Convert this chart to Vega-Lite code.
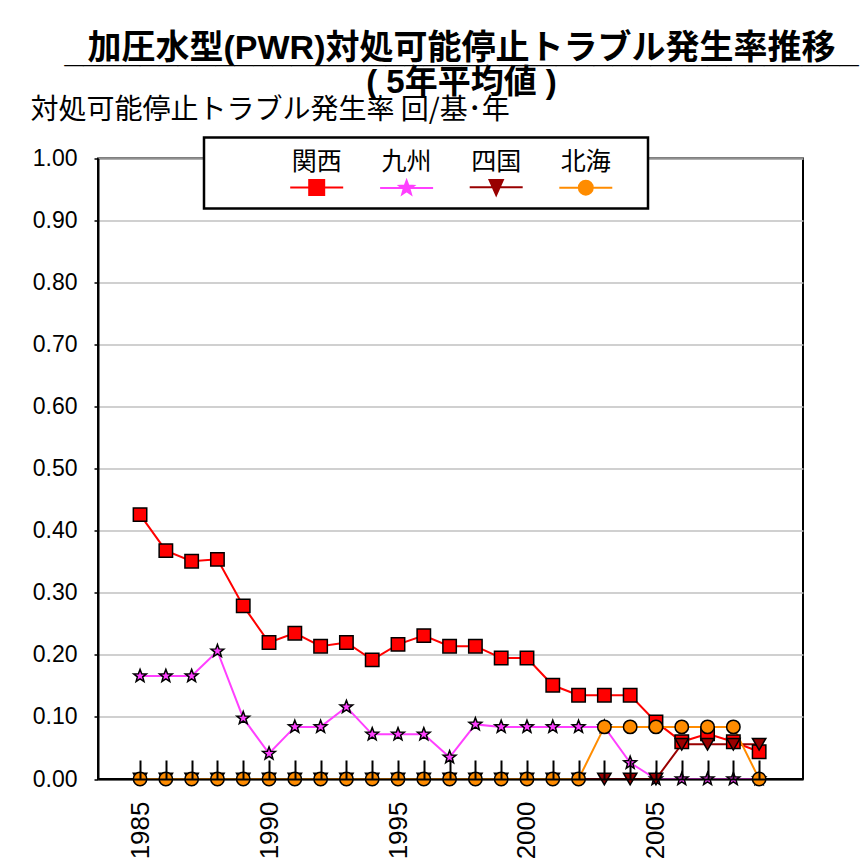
{
  "$schema": "https://vega.github.io/schema/vega-lite/v6.json",
  "autosize": "none",
  "width": 705,
  "height": 620.5,
  "padding": {"left": 98, "top": 158.5, "right": 63, "bottom": 86},
  "background": "white",
  "title": {
    "text": ["加圧水型(PWR)対処可能停止トラブル発生率推移", "__________________________________________"],
    "subtitle": "( 5年平均値 )",
    "font": "Liberation Sans, Noto Sans CJK JP",
    "fontSize": 34,
    "fontWeight": "bold",
    "color": "black",
    "lineHeight": 3,
    "subtitleFont": "Liberation Sans, Noto Sans CJK JP",
    "subtitleFontSize": 33,
    "subtitleFontWeight": "bold",
    "subtitleColor": "black",
    "subtitlePadding": -2,
    "anchor": "middle",
    "frame": "group",
    "dx": 11,
    "dy": 7,
    "offset": 4
  },
  "data": {
    "values": [
      {"year": 1985, "region": "関西", "value": 0.426},
      {"year": 1986, "region": "関西", "value": 0.368},
      {"year": 1987, "region": "関西", "value": 0.351},
      {"year": 1988, "region": "関西", "value": 0.354},
      {"year": 1989, "region": "関西", "value": 0.279},
      {"year": 1990, "region": "関西", "value": 0.220},
      {"year": 1991, "region": "関西", "value": 0.235},
      {"year": 1992, "region": "関西", "value": 0.214},
      {"year": 1993, "region": "関西", "value": 0.220},
      {"year": 1994, "region": "関西", "value": 0.192},
      {"year": 1995, "region": "関西", "value": 0.217},
      {"year": 1996, "region": "関西", "value": 0.231},
      {"year": 1997, "region": "関西", "value": 0.214},
      {"year": 1998, "region": "関西", "value": 0.214},
      {"year": 1999, "region": "関西", "value": 0.195},
      {"year": 2000, "region": "関西", "value": 0.195},
      {"year": 2001, "region": "関西", "value": 0.151},
      {"year": 2002, "region": "関西", "value": 0.135},
      {"year": 2003, "region": "関西", "value": 0.135},
      {"year": 2004, "region": "関西", "value": 0.135},
      {"year": 2005, "region": "関西", "value": 0.092},
      {"year": 2006, "region": "関西", "value": 0.060},
      {"year": 2007, "region": "関西", "value": 0.073},
      {"year": 2008, "region": "関西", "value": 0.060},
      {"year": 2009, "region": "関西", "value": 0.044},
      {"year": 1985, "region": "九州", "value": 0.166},
      {"year": 1986, "region": "九州", "value": 0.166},
      {"year": 1987, "region": "九州", "value": 0.166},
      {"year": 1988, "region": "九州", "value": 0.206},
      {"year": 1989, "region": "九州", "value": 0.098},
      {"year": 1990, "region": "九州", "value": 0.041},
      {"year": 1991, "region": "九州", "value": 0.084},
      {"year": 1992, "region": "九州", "value": 0.084},
      {"year": 1993, "region": "九州", "value": 0.116},
      {"year": 1994, "region": "九州", "value": 0.072},
      {"year": 1995, "region": "九州", "value": 0.072},
      {"year": 1996, "region": "九州", "value": 0.072},
      {"year": 1997, "region": "九州", "value": 0.035},
      {"year": 1998, "region": "九州", "value": 0.088},
      {"year": 1999, "region": "九州", "value": 0.084},
      {"year": 2000, "region": "九州", "value": 0.084},
      {"year": 2001, "region": "九州", "value": 0.084},
      {"year": 2002, "region": "九州", "value": 0.084},
      {"year": 2003, "region": "九州", "value": 0.084},
      {"year": 2004, "region": "九州", "value": 0.026},
      {"year": 2005, "region": "九州", "value": 0},
      {"year": 2006, "region": "九州", "value": 0},
      {"year": 2007, "region": "九州", "value": 0},
      {"year": 2008, "region": "九州", "value": 0},
      {"year": 2009, "region": "九州", "value": 0},
      {"year": 1985, "region": "四国", "value": 0},
      {"year": 1986, "region": "四国", "value": 0},
      {"year": 1987, "region": "四国", "value": 0},
      {"year": 1988, "region": "四国", "value": 0},
      {"year": 1989, "region": "四国", "value": 0},
      {"year": 1990, "region": "四国", "value": 0},
      {"year": 1991, "region": "四国", "value": 0},
      {"year": 1992, "region": "四国", "value": 0},
      {"year": 1993, "region": "四国", "value": 0},
      {"year": 1994, "region": "四国", "value": 0},
      {"year": 1995, "region": "四国", "value": 0},
      {"year": 1996, "region": "四国", "value": 0},
      {"year": 1997, "region": "四国", "value": 0},
      {"year": 1998, "region": "四国", "value": 0},
      {"year": 1999, "region": "四国", "value": 0},
      {"year": 2000, "region": "四国", "value": 0},
      {"year": 2001, "region": "四国", "value": 0},
      {"year": 2002, "region": "四国", "value": 0},
      {"year": 2003, "region": "四国", "value": 0},
      {"year": 2004, "region": "四国", "value": 0},
      {"year": 2005, "region": "四国", "value": 0},
      {"year": 2006, "region": "四国", "value": 0.056},
      {"year": 2007, "region": "四国", "value": 0.056},
      {"year": 2008, "region": "四国", "value": 0.056},
      {"year": 2009, "region": "四国", "value": 0.056},
      {"year": 1985, "region": "北海", "value": 0},
      {"year": 1986, "region": "北海", "value": 0},
      {"year": 1987, "region": "北海", "value": 0},
      {"year": 1988, "region": "北海", "value": 0},
      {"year": 1989, "region": "北海", "value": 0},
      {"year": 1990, "region": "北海", "value": 0},
      {"year": 1991, "region": "北海", "value": 0},
      {"year": 1992, "region": "北海", "value": 0},
      {"year": 1993, "region": "北海", "value": 0},
      {"year": 1994, "region": "北海", "value": 0},
      {"year": 1995, "region": "北海", "value": 0},
      {"year": 1996, "region": "北海", "value": 0},
      {"year": 1997, "region": "北海", "value": 0},
      {"year": 1998, "region": "北海", "value": 0},
      {"year": 1999, "region": "北海", "value": 0},
      {"year": 2000, "region": "北海", "value": 0},
      {"year": 2001, "region": "北海", "value": 0},
      {"year": 2002, "region": "北海", "value": 0},
      {"year": 2003, "region": "北海", "value": 0.084},
      {"year": 2004, "region": "北海", "value": 0.084},
      {"year": 2005, "region": "北海", "value": 0.084},
      {"year": 2006, "region": "北海", "value": 0.084},
      {"year": 2007, "region": "北海", "value": 0.084},
      {"year": 2008, "region": "北海", "value": 0.084},
      {"year": 2009, "region": "北海", "value": 0}
    ]
  },
  "encoding": {
    "x": {
      "field": "year",
      "type": "quantitative",
      "scale": {"domain": [1983.37, 2010.7], "nice": false, "zero": false},
      "axis": {
        "values": [1985,1986,1987,1988,1989,1990,1991,1992,1993,1994,1995,1996,1997,1998,1999,2000,2001,2002,2003,2004,2005,2006,2007,2008,2009],
        "labelExpr": "datum.value % 5 == 0 ? datum.value : ''",
        "format": "d",
        "title": null,
        "grid": false,
        "labelAngle": -90,
        "labelFont": "Liberation Sans",
        "labelFontSize": 26,
        "labelColor": "black",
        "labelPadding": 41,
        "tickSize": -19,
        "tickColor": "black",
        "tickWidth": 2,
        "domainColor": "black",
        "domainWidth": 2,
        "labelOverlap": false,
        "labelFlush": false,
        "zindex": 1
      }
    },
    "y": {
      "field": "value",
      "type": "quantitative",
      "scale": {"domain": [0, 1], "nice": false},
      "axis": {
        "values": [0, 0.1, 0.2, 0.3, 0.4, 0.5, 0.6, 0.7, 0.8, 0.9, 1.0],
        "format": ".2f",
        "grid": true,
        "gridColor": "#c0c0c0",
        "gridWidth": 1.5,
        "domainColor": "black",
        "domainWidth": 2,
        "tickColor": "black",
        "tickSize": 4,
        "tickWidth": 1.5,
        "labelFont": "Liberation Sans",
        "labelFontSize": 23,
        "labelColor": "black",
        "labelPadding": 17,
        "labelFlush": false,
        "title": "対処可能停止トラブル発生率 回/基･年",
        "titleAngle": 0,
        "titleAlign": "left",
        "titleBaseline": "alphabetic",
        "titleX": -68,
        "titleY": -40,
        "titleFont": "Noto Sans CJK JP",
        "titleFontSize": 28,
        "titleFontWeight": "normal",
        "titleColor": "black"
      }
    }
  },
  "layer": [
    {
      "mark": {"type": "line", "strokeWidth": 2},
      "encoding": {
        "stroke": {
          "field": "region",
          "type": "nominal",
          "scale": {"domain": ["関西", "九州", "四国", "北海"], "range": ["#ff0000", "#ff40ff", "#990000", "#ff8c00"]},
          "legend": null
        }
      }
    },
    {
      "mark": {"type": "point", "filled": true, "opacity": 1, "stroke": "black", "strokeWidth": 1.5, "size": 180},
      "encoding": {
        "fill": {
          "field": "region",
          "type": "nominal",
          "scale": {"range": ["#ff40ff", "#ff8c00", "#990000", "#ff0000"]},
          "legend": {
            "orient": "none",
            "legendX": 106,
            "legendY": -21,
            "direction": "horizontal",
            "columns": 4,
            "gridAlign": "each",
            "title": null,
            "padding": 9,
            "columnPadding": 27.6,
            "symbolSize": 2116,
            "symbolOffset": 0,
            "symbolStrokeWidth": 2,
            "values": ["関西", "九州", "四国", "北海"],
            "labelFont": "Noto Sans CJK JP",
            "labelFontSize": 25,
            "labelColor": "black",
            "labelAlign": "center",
            "labelBaseline": "middle",
            "labelOffset": -23,
            "fillColor": "white",
            "strokeColor": "black",
            "encoding": {
              "labels": {
                "dy": {"value": -9.4},
                "x": {"condition": {"test": "datum.value === '関西'", "value": 103.7}, "value": 23}
              },
              "symbols": {
                "x": {"condition": {"test": "datum.value === '関西'", "value": 103.7}, "value": 23},
                "shape": {
                  "condition": [
                    {"test": "datum.value === '関西'", "value": "M-1.152,0.709H-0.326M0.326,0.709H1.152M-0.326,0.383H0.326V1.035H-0.326Z"},
                    {"test": "datum.value === '九州'", "value": "M-1.152,0.709H-0.2M0.2,0.709H1.152M0,0.383L0.0805,0.598L0.31,0.608L0.13,0.751L0.192,0.973L0,0.846L-0.192,0.973L-0.13,0.751L-0.31,0.608L-0.0805,0.598Z"},
                    {"test": "datum.value === '四国'", "value": "M-1.152,0.709H-0.15M0.15,0.709H1.152M-0.29,0.392H0.29L0,1.044Z"}
                  ],
                  "value": "M-1.152,0.709H-0.304M0.304,0.709H1.152M-0.304,0.709A0.304,0.304,0,1,0,0.304,0.709A0.304,0.304,0,1,0,-0.304,0.709ZM2.1,0.709"
                },
                "fill": {
                  "condition": [
                    {"test": "datum.value === '関西'", "value": "#ff0000"},
                    {"test": "datum.value === '九州'", "value": "#ff40ff"},
                    {"test": "datum.value === '四国'", "value": "#990000"}
                  ],
                  "value": "#ff8c00"
                },
                "stroke": {
                  "condition": [
                    {"test": "datum.value === '関西'", "value": "#ff0000"},
                    {"test": "datum.value === '九州'", "value": "#ff40ff"},
                    {"test": "datum.value === '四国'", "value": "#990000"}
                  ],
                  "value": "#ff8c00"
                }
              }
            }
          }
        },
        "shape": {
          "field": "region",
          "type": "nominal",
          "scale": {"domain": ["関西", "九州", "四国", "北海"], "range": ["square", "M0,-1L0.247,-0.34L0.951,-0.309L0.399,0.13L0.588,0.809L0,0.42L-0.588,0.809L-0.399,0.13L-0.951,-0.309L-0.247,-0.34Z", "triangle-down", "circle"]},
          "legend": null
        }
      }
    }
  ],
  "config": {
    "view": {"stroke": "black", "strokeWidth": 2},
    "legend": {"strokeWidth": 2.5}
  }
}
